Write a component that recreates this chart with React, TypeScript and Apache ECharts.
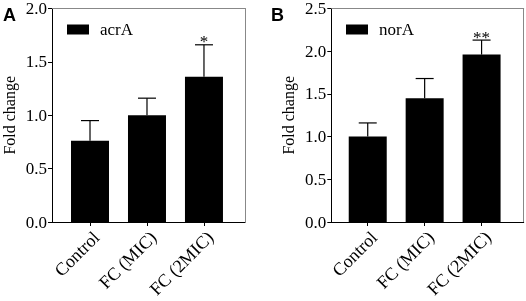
import React, { useEffect, useRef } from "react";
import * as echarts from "echarts";

const categories = ["Control", "FC (MIC)", "FC (2MIC)"];
const acrAMeans = [0.76, 1.0, 1.36];
const acrASD = [0.19, 0.16, 0.3];
const acrASig = ["", "", "*"];
const norAMeans = [1.0, 1.45, 1.96];
const norASD = [0.16, 0.23, 0.17];
const norASig = ["", "", "**"];
const acrATicks = { min: 0, max: 2.0, interval: 0.5 };
const norATicks = { min: 0, max: 2.5, interval: 0.5 };

const FONT = '"Liberation Serif", "Times New Roman", serif';

function App() {
  const ref = useRef<HTMLDivElement>(null);
  useEffect(() => {
    document.body.style.margin = "0";
    const chart = echarts.init(ref.current!, null, { renderer: "svg" });

    const grids = [
      { left: 52, right: 281, top: 8.5, bottom: 79 },
      { left: 331.3, right: 2.3, top: 8.5, bottom: 79 },
    ];
    const xRanges = [
      { min: -0.667, max: 2.72 },
      { min: -0.64, max: 2.74 },
    ];
    const yTicks = [acrATicks, norATicks];
    const names = ["acrA", "norA"];
    const means = [acrAMeans, norAMeans];
    const sds = [acrASD, norASD];
    const sigs = [acrASig, norASig];

    const xAxis: any[] = [];
    const yAxis: any[] = [];
    const series: any[] = [];
    const legend: any[] = [];

    [0, 1].forEach((g) => {
      xAxis.push({
        type: "value",
        gridIndex: g,
        min: xRanges[g].min,
        max: xRanges[g].max,
        position: "bottom",
        splitLine: { show: false },
        axisLine: { show: true, onZero: false, lineStyle: { color: "#000", width: 1 } },
        axisTick: {
          show: true,
          length: 4,
          customValues: [0, 1, 2],
          lineStyle: { color: "#000" },
        },
        axisLabel: {
          show: true,
          customValues: [0, 1, 2],
          rotate: 45,
          margin: 6,
          align: "right",
          verticalAlign: "top",
          fontSize: 18,
          fontFamily: FONT,
          color: "#000",
          formatter: (v: number) => categories[Math.round(v)] ?? "",
        },
      });
      xAxis.push({
        type: "value",
        gridIndex: g,
        min: xRanges[g].min,
        max: xRanges[g].max,
        position: "top",
        splitLine: { show: false },
        axisLine: { show: true, onZero: false, lineStyle: { color: "#888", width: 1 } },
        axisTick: { show: false },
        axisLabel: { show: false },
      });
      yAxis.push({
        type: "value",
        gridIndex: g,
        position: "left",
        min: yTicks[g].min,
        max: yTicks[g].max,
        interval: yTicks[g].interval,
        name: "Fold change",
        nameLocation: "middle",
        nameGap: 35,
        nameTextStyle: { fontSize: 16, fontFamily: FONT, color: "#000" },
        splitLine: { show: false },
        axisLine: { show: true, onZero: false, lineStyle: { color: "#000", width: 1 } },
        axisTick: { show: true, length: 4, lineStyle: { color: "#000" } },
        axisLabel: {
          margin: 5,
          fontSize: 17,
          fontFamily: FONT,
          color: "#000",
          formatter: (v: number) => v.toFixed(1),
        },
      });
      yAxis.push({
        type: "value",
        gridIndex: g,
        position: "right",
        min: yTicks[g].min,
        max: yTicks[g].max,
        splitLine: { show: false },
        axisLine: { show: true, onZero: false, lineStyle: { color: "#888", width: 1 } },
        axisTick: { show: false },
        axisLabel: { show: false },
      });

      series.push({
        name: names[g],
        type: "bar",
        xAxisIndex: g * 2,
        yAxisIndex: g * 2,
        barWidth: 38,
        itemStyle: { color: "#000" },
        data: means[g].map((m, i) => [i, m]),
      });
      series.push({
        type: "custom",
        xAxisIndex: g * 2,
        yAxisIndex: g * 2,
        z: 5,
        data: means[g].map((m, i) => [i, m, m + sds[g][i]]),
        renderItem: (params: any, api: any) => {
          const i = params.dataIndex;
          const x = api.value(0);
          const p0 = api.coord([x, api.value(1)]);
          const p1 = api.coord([x, api.value(2)]);
          const half = 9;
          const children: any[] = [
            {
              type: "line",
              shape: { x1: p0[0], y1: p0[1], x2: p1[0], y2: p1[1] },
              style: { stroke: "#000", lineWidth: 1.2 },
            },
            {
              type: "line",
              shape: { x1: p1[0] - half, y1: p1[1], x2: p1[0] + half, y2: p1[1] },
              style: { stroke: "#000", lineWidth: 1.2 },
            },
          ];
          const s = sigs[g][i];
          if (s) {
            children.push({
              type: "text",
              x: p1[0],
              y: p1[1] - 3,
              style: {
                text: s,
                fill: "#000",
                fontSize: 17,
                fontFamily: FONT,
                align: "center",
                verticalAlign: "middle",
              },
            });
          }
          return { type: "group", children };
        },
      });

      legend.push({
        data: [names[g]],
        left: g === 0 ? 67 : 346,
        top: 21,
        padding: 0,
        itemWidth: 22,
        itemHeight: 10,
        icon: "rect",
        textStyle: {
          fontSize: 17,
          fontFamily: FONT,
          color: "#000",
          lineHeight: 16,
          padding: [0, 0, 0, 6],
        },
      });
    });

    chart.setOption({
      animation: false,
      grid: grids,
      xAxis,
      yAxis,
      series,
      legend,
      graphic: [
        {
          type: "text",
          left: 3,
          top: 6,
          style: {
            text: "A",
            fontSize: 18,
            fontWeight: "bold",
            fontFamily: '"Liberation Sans", Arial, sans-serif',
            fill: "#000",
          },
        },
        {
          type: "text",
          left: 271,
          top: 6,
          style: {
            text: "B",
            fontSize: 18,
            fontWeight: "bold",
            fontFamily: '"Liberation Sans", Arial, sans-serif',
            fill: "#000",
          },
        },
      ],
    });
    return () => chart.dispose();
  }, []);
  return (
    <div
      ref={ref}
      style={{ position: "fixed", left: 0, top: 0, width: 526, height: 301 }}
    />
  );
}

export default App;
